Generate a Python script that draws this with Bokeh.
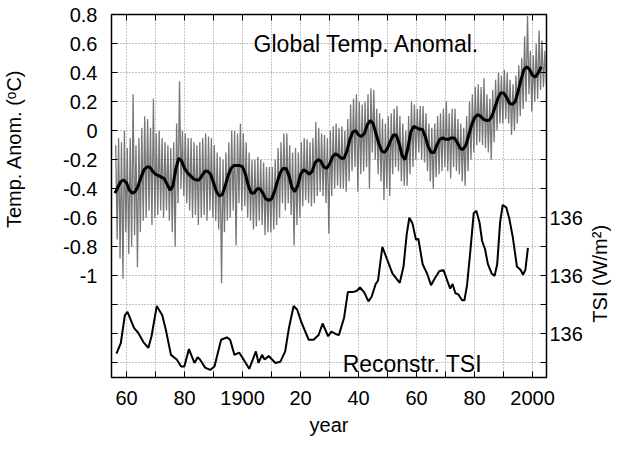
import math
from bokeh.plotting import figure
from bokeh.layouts import row
from bokeh.models import (LinearAxis, Range1d, FixedTicker, Label)
from bokeh.embed import file_html
from bokeh.resources import INLINE

FONT = "Liberation Sans"

# ---------------- data ----------------
# smoothed global temperature anomaly (deg C), annual
smooth_years = list(range(1856, 2004))
smooth_vals = [
    -0.43, -0.39, -0.35, -0.34, -0.36, -0.41, -0.43, -0.42, -0.38, -0.32,
    -0.27, -0.25, -0.25, -0.28, -0.30, -0.31, -0.32, -0.33, -0.37, -0.41,
    -0.38, -0.26, -0.19, -0.21, -0.26, -0.29, -0.31, -0.33, -0.34, -0.34,
    -0.31, -0.28, -0.28, -0.30, -0.36, -0.42, -0.45, -0.44, -0.38, -0.31,
    -0.26, -0.24, -0.24, -0.24, -0.25, -0.30, -0.38, -0.43, -0.43, -0.40,
    -0.40, -0.43, -0.47, -0.48, -0.47, -0.42, -0.35, -0.29, -0.26, -0.26,
    -0.31, -0.39, -0.42, -0.38, -0.30, -0.27, -0.28, -0.30, -0.28, -0.22,
    -0.20, -0.21, -0.25, -0.26, -0.23, -0.18, -0.16, -0.17, -0.19, -0.19,
    -0.14, -0.06, -0.01, 0.00, -0.03, -0.04, -0.02, 0.04, 0.07, 0.05,
    -0.02, -0.09, -0.14, -0.15, -0.12, -0.07, -0.03, -0.03, -0.09, -0.17,
    -0.20, -0.12, -0.01, 0.03, 0.02, 0.01, 0.01, -0.04, -0.11, -0.15,
    -0.15, -0.10, -0.06, -0.05, -0.06, -0.06, -0.05, -0.05, -0.08, -0.12,
    -0.13, -0.10, -0.03, 0.04, 0.09, 0.11, 0.10, 0.08, 0.07, 0.07,
    0.10, 0.16, 0.22, 0.26, 0.26, 0.23, 0.19, 0.18, 0.20, 0.27,
    0.35, 0.42, 0.44, 0.42, 0.38, 0.37, 0.40, 0.44,
]

# raw (monthly) anomaly: yearly high and low excursions
raw_years = list(range(1856, 2005))
raw_high = [
    -0.10, -0.05, -0.08, 0.00, -0.12, -0.05, 0.25, -0.10, -0.05, 0.02,
    0.10, 0.08, 0.02, 0.22, -0.02, 0.00, -0.05, -0.08, -0.10, -0.12,
    -0.08, 0.05, 0.34, 0.00, -0.02, -0.05, -0.05, -0.08, -0.10, -0.08,
    -0.05, -0.02, -0.04, -0.05, -0.10, -0.15, -0.18, -0.20, -0.15, -0.08,
    0.00, 0.00, -0.02, 0.05, -0.02, -0.08, -0.15, -0.20, -0.20, -0.18,
    -0.20, -0.22, -0.25, -0.25, -0.25, -0.20, -0.12, -0.08, -0.02, -0.02,
    -0.10, -0.15, -0.12, -0.15, -0.08, -0.05, -0.06, -0.08, -0.05, 0.06,
    0.02, -0.02, -0.03, -0.05, 0.00, 0.03, 0.05, 0.02, 0.03, 0.00,
    0.08, 0.18, 0.22, 0.25, 0.20, 0.18, 0.20, 0.25, 0.29, 0.28,
    0.15, 0.12, 0.08, 0.05, 0.10, 0.12, 0.15, 0.17, 0.10, 0.05,
    0.00, 0.10, 0.20, 0.18, 0.15, 0.17, 0.17, 0.12, 0.05, 0.02,
    0.05, 0.10, 0.12, 0.15, 0.20, 0.12, 0.15, 0.15, 0.08, 0.05,
    0.02, 0.10, 0.20, 0.25, 0.30, 0.32, 0.30, 0.36, 0.25, 0.22,
    0.28, 0.35, 0.40, 0.38, 0.42, 0.40, 0.35, 0.32, 0.38, 0.45,
    0.50, 0.65, 0.79, 0.55, 0.52, 0.60, 0.69, 0.62, 0.55,
]
raw_low = [
    -0.75, -0.88, -1.02, -0.70, -0.85, -0.80, -0.72, -0.94, -0.70, -0.62,
    -0.60, -0.55, -0.65, -0.60, -0.58, -0.55, -0.60, -0.55, -0.62, -0.70,
    -0.80, -0.50, -0.40, -0.45, -0.50, -0.55, -0.60, -0.58, -0.65, -0.60,
    -0.58, -0.62, -0.55, -0.60, -0.62, -0.68, -1.05, -0.70, -0.62, -0.60,
    -0.55, -0.79, -0.50, -0.55, -0.52, -0.60, -0.62, -0.68, -0.66, -0.62,
    -0.65, -0.72, -0.70, -0.70, -0.68, -0.65, -0.60, -0.50, -0.55, -0.50,
    -0.58, -0.79, -0.65, -0.60, -0.52, -0.48, -0.50, -0.52, -0.50, -0.45,
    -0.42, -0.45, -0.50, -0.71, -0.45, -0.40, -0.38, -0.40, -0.40, -0.42,
    -0.35, -0.28, -0.25, -0.42, -0.30, -0.28, -0.25, -0.40, -0.15, -0.20,
    -0.30, -0.35, -0.48, -0.40, -0.45, -0.30, -0.25, -0.28, -0.35, -0.38,
    -0.38, -0.30, -0.25, -0.20, -0.15, -0.20, -0.22, -0.28, -0.35, -0.40,
    -0.32, -0.30, -0.28, -0.25, -0.28, -0.33, -0.25, -0.28, -0.30, -0.35,
    -0.38, -0.28, -0.20, -0.15, -0.10, -0.08, -0.10, -0.12, -0.15, -0.20,
    -0.08, 0.00, 0.05, 0.05, 0.08, 0.05, -0.03, 0.00, 0.05, 0.10,
    0.15, 0.20, 0.25, 0.13, 0.20, 0.22, 0.28, 0.30, 0.32,
]

# reconstructed total solar irradiance (W/m^2)
tsi_years = [
    1856.5, 1858.0, 1859.4, 1860.3, 1862.6, 1864.0, 1865.8, 1867.5, 1868.6, 1870.4,
    1872.3, 1873.5, 1875.3, 1877.3, 1878.8, 1879.9, 1881.5, 1883.4, 1884.5, 1885.3,
    1887.1, 1888.8, 1890.3, 1892.6, 1894.6, 1895.7, 1897.2, 1898.8, 1900.6, 1902.3,
    1904.6, 1905.5, 1906.7, 1907.6, 1909.0, 1911.3, 1913.0, 1914.7, 1915.9, 1917.6,
    1918.8, 1920.3, 1922.8, 1924.5, 1926.2, 1927.6, 1929.5, 1930.6, 1932.1, 1933.2,
    1935.0, 1936.3, 1937.8, 1939.3, 1940.5, 1941.9, 1943.4, 1944.5, 1945.9, 1946.7,
    1948.2, 1949.7, 1951.7, 1954.2, 1955.5, 1956.6, 1957.5, 1958.6, 1959.8, 1960.6,
    1962.1, 1963.6, 1965.0, 1966.1, 1967.8, 1969.3, 1970.7, 1971.6, 1972.4, 1973.4,
    1974.4, 1975.7, 1976.5, 1977.4, 1978.6, 1979.7, 1980.6, 1981.7, 1982.6, 1983.6,
    1984.6, 1985.9, 1986.9, 1987.8, 1988.8, 1989.7, 1990.9, 1992.0, 1993.2, 1994.6,
    1995.9, 1996.7, 1997.5, 1998.4,
]
tsi_vals = [
    1365.33, 1365.42, 1365.66, 1365.69, 1365.55, 1365.51, 1365.43, 1365.38, 1365.48, 1365.74,
    1365.66, 1365.54, 1365.32, 1365.28, 1365.22, 1365.22, 1365.37, 1365.25, 1365.30, 1365.28,
    1365.21, 1365.19, 1365.22, 1365.45, 1365.47, 1365.45, 1365.32, 1365.34, 1365.27, 1365.20,
    1365.35, 1365.25, 1365.32, 1365.28, 1365.31, 1365.25, 1365.26, 1365.35, 1365.54, 1365.74,
    1365.71, 1365.60, 1365.45, 1365.45, 1365.49, 1365.59, 1365.48, 1365.52, 1365.50, 1365.49,
    1365.64, 1365.86, 1365.86, 1365.87, 1365.90, 1365.86, 1365.78, 1365.82, 1365.93, 1365.96,
    1366.25, 1366.15, 1366.02, 1365.94, 1366.08, 1366.36, 1366.50, 1366.45, 1366.31, 1366.32,
    1366.10, 1366.02, 1365.92, 1365.97, 1366.04, 1366.05, 1365.95, 1365.89, 1365.93, 1365.85,
    1365.84, 1365.79, 1365.79, 1365.92, 1366.23, 1366.54, 1366.56, 1366.46, 1366.30, 1366.23,
    1366.10, 1366.02, 1366.00, 1366.10, 1366.46, 1366.61, 1366.59, 1366.49, 1366.33, 1366.08,
    1366.05, 1366.01, 1366.05, 1366.24,
]

# ticks / labels
x_ticks = [1860, 1870, 1880, 1890, 1900, 1910, 1920, 1930, 1940, 1950,
           1960, 1970, 1980, 1990, 2000]
x_labels = ["60", "", "80", "", "1900", "", "20", "", "40", "",
            "60", "", "80", "", "2000"]
y_ticks = [0.8, 0.6, 0.4, 0.2, 0.0, -0.2, -0.4, -0.6, -0.8, -1.0,
           -1.2, -1.4, -1.6]
y_labels = ["0.8", "0.6", "0.4", "0.2", "0", "-0.2", "-0.4", "-0.6",
            "-0.8", "-1", "", "", ""]
tsi_ticks = [1368.25, 1368.0, 1367.75, 1367.5, 1367.25, 1367.0, 1366.75,
             1366.5, 1366.25, 1366.0, 1365.75, 1365.5, 1365.25]
tsi_labels = ["", "", "", "", "", "", "", "136", "", "136", "", "136", ""]

NB = "\u00a0"
# non-breaking spaces shift the centred titles along the axis like the reference
LEFT_TITLE = NB * 17 + "Temp. Anom. (\u1d52C)"
RIGHT_TITLE = "TSI (W/m\u00b2)" + NB * 28

# ---------------- build the zig-zag raw line ----------------
raw_x, raw_y = [], []
for yr, hi, lo in zip(raw_years, raw_high, raw_low):
    raw_x += [yr + 0.25, yr + 0.75]
    raw_y += [hi, lo]

# ---------------- figure ----------------
FW, FH = 435, 363
p = figure(frame_width=FW, frame_height=FH,
           x_range=Range1d(1854.8, 2004.8),
           y_range=Range1d(-1.70, 0.80), output_backend="svg",
           toolbar_location=None, min_border=0)
p.extra_y_ranges = {"tsi": Range1d(1365.125, 1368.25)}

p.outline_line_color = "black"
p.outline_line_width = 1.5
p.background_fill_color = "white"
p.border_fill_color = "white"

def style_axis(ax, ticks, labels, size="20px"):
    ax.ticker = FixedTicker(ticks=ticks)
    ax.major_label_overrides = {t: l for t, l in zip(ticks, labels)}
    ax.major_tick_in = 6
    ax.major_tick_out = 0
    ax.minor_tick_in = 0
    ax.minor_tick_out = 0
    ax.axis_line_color = "black"
    ax.major_tick_line_color = "black"
    ax.major_label_text_font = FONT
    ax.major_label_text_font_size = size
    ax.major_label_text_color = "black"
    ax.axis_label_text_font = FONT
    ax.axis_label_text_font_size = "20px"
    ax.axis_label_text_font_style = "normal"
    ax.axis_label_text_color = "black"

style_axis(p.xaxis[0], x_ticks, x_labels)
p.xaxis[0].major_label_standoff = 13
p.xaxis[0].axis_label = "year"
p.xaxis[0].axis_label_standoff = 6

style_axis(p.yaxis[0], y_ticks, y_labels)
p.yaxis[0].major_label_standoff = 14
p.yaxis[0].axis_label = LEFT_TITLE
p.yaxis[0].axis_label_standoff = 35

# top axis: only inward ticks
top = LinearAxis()
style_axis(top, x_ticks, [" " for _ in x_ticks], size="9px")
top.major_label_standoff = 1
p.add_layout(top, "above")

right = LinearAxis(y_range_name="tsi")
style_axis(right, tsi_ticks, tsi_labels)
right.major_label_standoff = 3
p.add_layout(right, "right")

p.xgrid.ticker = FixedTicker(ticks=x_ticks)
p.ygrid.ticker = FixedTicker(ticks=y_ticks)
for g in (p.xgrid, p.ygrid):
    g.grid_line_color = "#8a8a8a"
    g.grid_line_dash = "1 2"
    g.grid_line_width = 1

p.line(raw_x, raw_y, line_color="#777777", line_width=1.3)
p.line(smooth_years, smooth_vals, line_color="black", line_width=3)
p.line(tsi_years, tsi_vals, line_color="black", line_width=2,
       y_range_name="tsi")

p.add_layout(Label(x=1903.8, y=0.60, text="Global Temp. Anomal.",
                   text_font=FONT, text_font_size="23px",
                   text_color="black", text_baseline="middle"))
p.add_layout(Label(x=1934.5, y=-1.61, text="Reconstr. TSI",
                   text_font=FONT, text_font_size="23px",
                   text_color="black", text_baseline="middle"))

# narrow companion figure carrying the right-hand title (reads bottom-to-top)
q = figure(frame_width=1, frame_height=FH, x_range=Range1d(0, 1),
           y_range=Range1d(0, 1), output_backend="svg",
           toolbar_location=None, min_border=0)
q.outline_line_color = None
q.background_fill_color = "white"
q.border_fill_color = "white"
q.grid.visible = False
q.xaxis.visible = False
qa = q.yaxis[0]
qa.ticker = FixedTicker(ticks=[])
qa.major_label_text_font_size = "0px"
qa.major_label_standoff = 0
qa.major_tick_in = 0
qa.major_tick_out = 0
qa.minor_tick_in = 0
qa.minor_tick_out = 0
qa.axis_line_color = None
qa.axis_label = RIGHT_TITLE
qa.axis_label_standoff = 0
qa.axis_label_text_font = FONT
qa.axis_label_text_font_size = "20px"
qa.axis_label_text_font_style = "normal"
qa.axis_label_text_color = "black"

open("out.html", "w").write(file_html(row(p, q), INLINE))
